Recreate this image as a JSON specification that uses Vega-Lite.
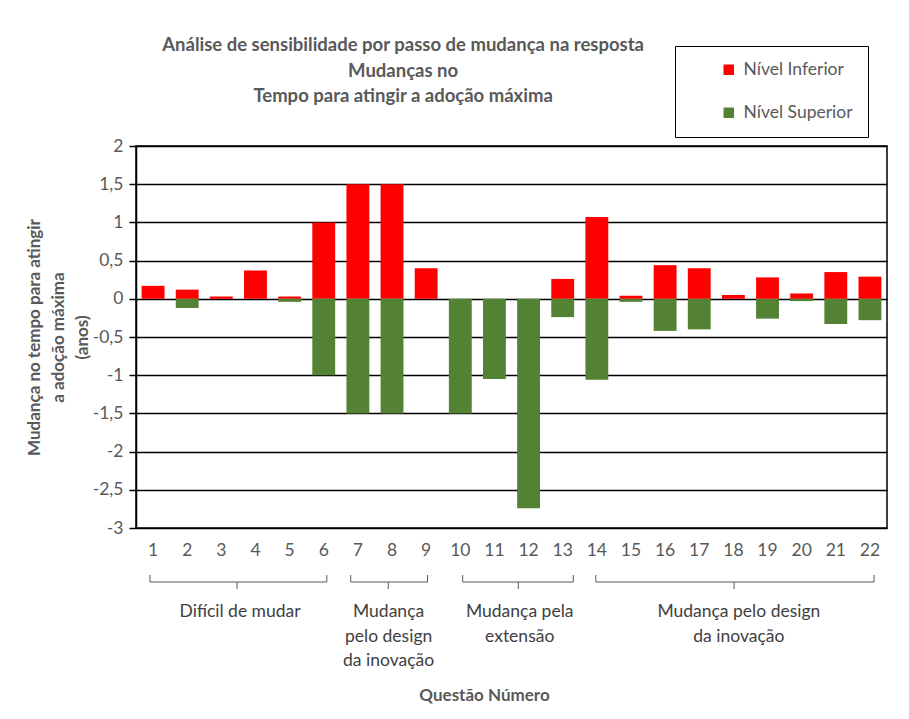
{
  "$schema": "https://vega.github.io/schema/vega-lite/v6.json",
  "background": "white",
  "padding": {"left": 24, "top": 36, "right": 5, "bottom": 5},
  "title": {
    "text": ["Análise de sensibilidade por passo de mudança na resposta", "Mudanças no", "Tempo para atingir a adoção máxima"],
    "font": "Lato", "fontSize": 18.5, "fontWeight": "bold", "color": "#595959",
    "lineHeight": 25.5, "anchor": "middle", "offset": -60, "dx": -53
  },
  "config": {"font": "Lato", "view": {"stroke": null}},
  "spacing": 8,
  "vconcat": [
    {
      "width": 751,
      "height": 382,
      "view": {"stroke": "black", "strokeWidth": 1.5},
      "data": {"values": [
        {"q": 1, "nivel": "Nível Inferior", "v": 0.17}, {"q": 1, "nivel": "Nível Superior", "v": 0},
        {"q": 2, "nivel": "Nível Inferior", "v": 0.12}, {"q": 2, "nivel": "Nível Superior", "v": -0.12},
        {"q": 3, "nivel": "Nível Inferior", "v": 0.03}, {"q": 3, "nivel": "Nível Superior", "v": 0},
        {"q": 4, "nivel": "Nível Inferior", "v": 0.37}, {"q": 4, "nivel": "Nível Superior", "v": 0},
        {"q": 5, "nivel": "Nível Inferior", "v": 0.03}, {"q": 5, "nivel": "Nível Superior", "v": -0.04},
        {"q": 6, "nivel": "Nível Inferior", "v": 1.0}, {"q": 6, "nivel": "Nível Superior", "v": -1.0},
        {"q": 7, "nivel": "Nível Inferior", "v": 1.5}, {"q": 7, "nivel": "Nível Superior", "v": -1.5},
        {"q": 8, "nivel": "Nível Inferior", "v": 1.5}, {"q": 8, "nivel": "Nível Superior", "v": -1.5},
        {"q": 9, "nivel": "Nível Inferior", "v": 0.4}, {"q": 9, "nivel": "Nível Superior", "v": 0},
        {"q": 10, "nivel": "Nível Inferior", "v": 0}, {"q": 10, "nivel": "Nível Superior", "v": -1.5},
        {"q": 11, "nivel": "Nível Inferior", "v": 0}, {"q": 11, "nivel": "Nível Superior", "v": -1.05},
        {"q": 12, "nivel": "Nível Inferior", "v": 0}, {"q": 12, "nivel": "Nível Superior", "v": -2.74},
        {"q": 13, "nivel": "Nível Inferior", "v": 0.26}, {"q": 13, "nivel": "Nível Superior", "v": -0.24},
        {"q": 14, "nivel": "Nível Inferior", "v": 1.07}, {"q": 14, "nivel": "Nível Superior", "v": -1.06},
        {"q": 15, "nivel": "Nível Inferior", "v": 0.04}, {"q": 15, "nivel": "Nível Superior", "v": -0.04},
        {"q": 16, "nivel": "Nível Inferior", "v": 0.44}, {"q": 16, "nivel": "Nível Superior", "v": -0.42},
        {"q": 17, "nivel": "Nível Inferior", "v": 0.4}, {"q": 17, "nivel": "Nível Superior", "v": -0.4},
        {"q": 18, "nivel": "Nível Inferior", "v": 0.05}, {"q": 18, "nivel": "Nível Superior", "v": 0},
        {"q": 19, "nivel": "Nível Inferior", "v": 0.28}, {"q": 19, "nivel": "Nível Superior", "v": -0.26},
        {"q": 20, "nivel": "Nível Inferior", "v": 0.07}, {"q": 20, "nivel": "Nível Superior", "v": -0.03},
        {"q": 21, "nivel": "Nível Inferior", "v": 0.35}, {"q": 21, "nivel": "Nível Superior", "v": -0.33},
        {"q": 22, "nivel": "Nível Inferior", "v": 0.29}, {"q": 22, "nivel": "Nível Superior", "v": -0.28}
      ]},
      "mark": {"type": "bar"},
      "encoding": {
        "x": {
          "field": "q", "type": "ordinal",
          "scale": {"paddingInner": 0.33, "paddingOuter": 0.165},
          "axis": {"title": null, "labelAngle": 0, "ticks": false, "domain": false, "labelPadding": 13,
                   "labelFontSize": 17.5, "labelColor": "#595959", "labelFont": "Lato"}
        },
        "y": {
          "field": "v", "type": "quantitative", "stack": null,
          "scale": {"domain": [-3, 2], "nice": false, "zero": false},
          "axis": {
            "values": [-3, -2.5, -2, -1.5, -1, -0.5, 0, 0.5, 1, 1.5, 2],
            "labelExpr": "replace(toString(datum.value), '.', ',')",
            "labelFontSize": 17.5, "labelColor": "#595959", "labelFont": "Lato",
            "tickColor": "black", "tickSize": 7, "tickWidth": 1.5,
            "domainColor": "black", "domainWidth": 1.5,
            "grid": true, "gridColor": "black", "gridWidth": 1.5,
            "labelPadding": 6,
            "title": ["Mudança no tempo para atingir", "a adoção máxima", "(anos)"],
            "titleFontSize": 17, "titleFontWeight": "bold", "titleColor": "#595959", "titleFont": "Lato",
            "titleLineHeight": 24, "titlePadding": 1
          }
        },
        "color": {
          "field": "nivel", "type": "nominal",
          "scale": {"domain": ["Nível Inferior", "Nível Superior"], "range": ["#FF0000", "#548235"]},
          "legend": {
            "orient": "none", "legendX": 539, "legendY": -100, "title": null,
            "labelFontSize": 17.5, "labelColor": "#595959", "labelFont": "Lato",
            "symbolType": "square", "symbolSize": 110, "symbolStrokeWidth": 0,
            "strokeColor": "black", "padding": 15, "rowPadding": 24,
            "symbolOffset": 30, "labelOffset": 6
          }
        }
      }
    },
    {
      "width": 751,
      "height": 118,
      "data": {"values": [
        {"start": 0.91, "end": 6.09, "mid": 3.46, "lx": 3.55, "label": "Difícil de mudar"},
        {"start": 6.79, "end": 9.04, "mid": 7.89, "lx": 7.9, "label": "Mudança\npelo design\nda inovação"},
        {"start": 10.07, "end": 13.31, "mid": 11.7, "lx": 11.74, "label": "Mudança pela\nextensão"},
        {"start": 13.97, "end": 22.12, "mid": 18.02, "lx": 18.16, "label": "Mudança pelo design\nda inovação"}
      ]},
      "layer": [
        {
          "mark": {"type": "rule", "color": "#595959", "strokeWidth": 1},
          "encoding": {
            "x": {"field": "start", "type": "quantitative", "scale": {"domain": [0.5, 22.5], "nice": false, "zero": false},
                  "axis": {"title": "Questão Número", "labels": false, "ticks": false, "domain": false, "grid": false,
                           "titleFontSize": 17, "titleFontWeight": "bold", "titleColor": "#595959", "titleFont": "Lato", "titlePadding": 1, "titleX": 348}},
            "x2": {"field": "end"},
            "y": {"datum": 14, "type": "quantitative", "scale": {"domain": [0, 118], "reverse": true, "nice": false, "zero": false}, "axis": null}
          }
        },
        {
          "mark": {"type": "rule", "color": "#595959", "strokeWidth": 1},
          "encoding": {
            "x": {"field": "start", "type": "quantitative"},
            "y": {"datum": 7, "type": "quantitative"},
            "y2": {"datum": 14}
          }
        },
        {
          "mark": {"type": "rule", "color": "#595959", "strokeWidth": 1},
          "encoding": {
            "x": {"field": "end", "type": "quantitative"},
            "y": {"datum": 7, "type": "quantitative"},
            "y2": {"datum": 14}
          }
        },
        {
          "mark": {"type": "rule", "color": "#595959", "strokeWidth": 1},
          "encoding": {
            "x": {"field": "mid", "type": "quantitative"},
            "y": {"datum": 14, "type": "quantitative"},
            "y2": {"datum": 21}
          }
        },
        {
          "mark": {"type": "text", "font": "Lato", "fontSize": 17.5, "color": "#404040", "baseline": "top", "align": "center", "lineBreak": "\n", "lineHeight": 24.5},
          "encoding": {
            "x": {"field": "lx", "type": "quantitative"},
            "y": {"datum": 35, "type": "quantitative"},
            "text": {"field": "label", "type": "nominal"}
          }
        }
      ]
    }
  ]
}
